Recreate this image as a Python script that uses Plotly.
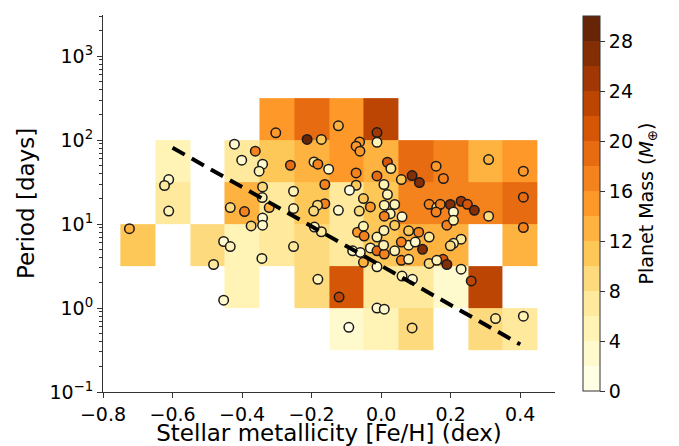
import numpy as np
import plotly.graph_objects as go

# ---- binned mean planet mass (rows: log10 period bins, cols: [Fe/H] bins) ----
feh_edges = [-0.75, -0.65, -0.55, -0.45, -0.35, -0.25, -0.15, -0.05, 0.05, 0.15, 0.25, 0.35, 0.45]
logp_edges = [-0.5, 0.0, 0.5, 1.0, 1.5, 2.0, 2.5]
N = None
cell_mean_mass = [
    # c0  c1  c2  c3  c4  c5  c6  c7  c8  c9  c10 c11
    [N,  N,  N,  N,  N,  N,  3,  5,  9,  N,  9,  7],    # 10^-0.5 - 10^0
    [N,  N,  N,  5,  N,  9,  21, 7,  7,  3,  23, N],    # 10^0 - 10^0.5
    [11, N,  9,  5,  7,  9,  7,  11, 13, 13, N,  13],   # 10^0.5 - 10^1
    [N,  7,  N,  13, 7,  11, 7,  11, 17, 17, 17, 19],   # 10^1 - 10^1.5
    [N,  5,  N,  7,  11, 13, 15, 13, 19, 17, 13, 15],   # 10^1.5 - 10^2
    [N,  N,  N,  N,  15, 19, 15, 23, N,  N,  N,  N],    # 10^2 - 10^2.5
]

# ---- individual planets ----
feh = [-0.724, -0.611, -0.623, -0.611, -0.422, -0.362, -0.401, -0.341, -0.351, -0.341,
       -0.342, -0.434, -0.393, -0.341, -0.322, -0.303, -0.123, -0.012, -0.213, -0.172,
       -0.062, -0.012, -0.072, -0.061, -0.261, -0.193, -0.182, -0.151, 0.018, 0.028,
       -0.072, -0.012, 0.089, 0.110, 0.058, 0.158, 0.179, -0.162, -0.072, 0.008,
       -0.252, -0.091, 0.018, -0.051, -0.162, -0.183, -0.252, -0.194, -0.123, -0.063,
       -0.031, 0.009, 0.039, 0.026, 0.009, 0.060, 0.138, 0.160, 0.170, 0.199,
       0.208, 0.230, 0.309, 0.409, 0.409, 0.248, 0.268, 0.309, 0.189, 0.208,
       0.409, 0.230, 0.208, 0.199, 0.178, 0.189, 0.230, 0.259, 0.329, 0.409,
       -0.252, -0.192, -0.172, -0.182, -0.121, -0.093, -0.012, 0.009, 0.089, 0.060,
       0.090, -0.012, -0.051, -0.082, -0.068, -0.051, -0.049, -0.060, -0.031, -0.012,
       0.009, 0.007, -0.012, 0.008, 0.039, 0.039, 0.058, 0.079, 0.079, 0.058,
       0.098, 0.108, 0.079, 0.119, 0.138, 0.138, 0.160, 0.158, -0.453, -0.434,
       -0.482, -0.343, -0.453, -0.374, -0.341]
period = [8.8, 33.9, 28.8, 14.3, 89.4, 73.7, 57.6, 51.6, 42.6, 27.7,
          20.7, 15.7, 14.1, 11.8, 15.7, 122, 148, 123, 102, 102,
          95, 94, 84.6, 73.7, 50.2, 55, 51.6, 45, 54.5, 45.9,
          40.6, 37.4, 37.8, 31.2, 33.9, 48.9, 34.9, 29.6, 29, 29.6,
          24.6, 25.3, 22.5, 20.1, 17.5, 16.8, 15.3, 14.3, 14.6, 14.3,
          16, 16.8, 17.1, 13.3, 12.4, 12.2, 17.2, 15.7, 17.2, 17.1,
          13.9, 18.7, 58.7, 42.6, 20.9, 17.2, 14.6, 12.4, 9.7, 11.1,
          9.1, 6.6, 5.9, 5.5, 3.8, 3.3, 2.9, 2.1, 0.75, 0.80,
          5.4, 9.2, 8.1, 2.2, 1.35, 0.59, 1.0, 0.97, 0.58, 2.4,
          2.2, 3.1, 3.5, 4.8, 8.0, 9.4, 7.2, 4.6, 5.2, 4.8,
          4.4, 5.6, 7.0, 8.4, 4.8, 9.7, 3.7, 3.8, 5.6, 6.1,
          6.1, 8.0, 8.3, 5.0, 7.0, 3.4, 3.7, 13.9, 6.2, 5.4,
          3.3, 3.9, 1.24, 9.5, 9.7]
mass = [12, 3, 7, 4, 3, 17, 3, 2, 5, 9,
        4, 9, 17, 3, 12, 15, 13, 24, 28, 10,
        14, 5, 15, 14, 18, 7, 16, 3, 20, 6,
        16, 18, 26, 26, 10, 15, 17, 17, 11, 5,
        4, 1, 4, 10, 17, 8, 4, 8, 3, 9,
        15, 5, 4, 4, 16, 3, 16, 9, 17, 27,
        3, 24, 12, 15, 19, 20, 26, 8, 16, 4,
        16, 7, 5, 8, 20, 26, 2, 22, 6, 4,
        6, 5, 6, 4, 22, 1, 3, 2, 8, 4,
        3, 2, 12, 3, 15, 4, 16, 3, 2, 19,
        17, 4, 4, 4, 4, 11, 16, 4, 4, 17,
        2, 17, 11, 26, 7, 8, 4, 16, 2, 4,
        7, 4, 2, 8, 3]

# ---- period-metallicity trend: log10(P) = intercept + slope * [Fe/H] ----
fit_intercept = 0.504
fit_slope = -2.342
fit_feh = [-0.6, 0.4]

# colorbar
mass_min, mass_max, n_levels = 0, 30, 15
cbar_ticks = [0, 4, 8, 12, 16, 20, 24, 28]

# ---- discrete YlOrBr colour scale ----
anchors = np.array([
    [255, 255, 229], [255, 247, 188], [254, 227, 145], [254, 196, 79], [254, 153, 41],
    [236, 112, 20], [204, 76, 2], [153, 52, 4], [102, 37, 6]], dtype=float)
colorscale = []
for i in range(n_levels):
    t = i / (n_levels - 1) * (len(anchors) - 1)
    k = min(int(np.floor(t)), len(anchors) - 2)
    f = t - k
    rgb = anchors[k] * (1 - f) + anchors[k + 1] * f
    c = "rgb(%d,%d,%d)" % tuple(np.round(rgb).astype(int))
    colorscale.append([i / n_levels, c])
    colorscale.append([(i + 1) / n_levels, c])

# log-axis minor ticks (2..9 in every decade)
minor_y = [m * 10.0 ** d for d in range(-1, 4) for m in range(2, 10)]

FONT = "DejaVu Sans"
FS = 19

fig = go.Figure()

fig.add_trace(go.Heatmap(
    x=feh_edges,
    y=[10 ** v for v in logp_edges],
    z=cell_mean_mass,
    coloraxis="coloraxis",
    hoverongaps=False,
))

fig.add_trace(go.Scatter(
    x=feh, y=period, mode="markers",
    marker=dict(size=9.5, color=mass, coloraxis="coloraxis",
                line=dict(color="#1a1a1a", width=1.5)),
    showlegend=False,
))

fit_x = np.array(fit_feh)
fig.add_trace(go.Scatter(
    x=fit_x, y=10 ** (fit_intercept + fit_slope * fit_x), mode="lines",
    line=dict(color="black", width=4, dash="14px,8px"),
    showlegend=False,
))

fig.update_layout(
    width=679, height=446,
    margin=dict(l=103, r=124, t=15, b=54),
    paper_bgcolor="white", plot_bgcolor="white",
    font=dict(family=FONT, size=FS, color="black"),
    coloraxis=dict(
        colorscale=colorscale, cmin=mass_min, cmax=mass_max,
        colorbar=dict(
            x=1.062, xanchor="left", xpad=0, y=0.5, yanchor="middle",
            len=0.995, lenmode="fraction", ypad=0, thickness=17,
            outlinecolor="#333", outlinewidth=1,
            tickvals=cbar_ticks, ticks="outside", ticklen=5, tickcolor="#333",
            tickfont=dict(family=FONT, size=FS),
            title=dict(text="Planet Mass (<i>M</i><sub>⊕</sub>)", side="right",
                       font=dict(family=FONT, size=FS)),
        ),
    ),
    xaxis=dict(
        range=[-0.8, 0.5], tickvals=[-0.8, -0.6, -0.4, -0.2, 0.0, 0.2, 0.4],
        tickformat=".1f", automargin=False,
        showline=True, linecolor="#333", linewidth=1, mirror=False,
        ticks="outside", ticklen=5, tickcolor="#333",
        showgrid=False, zeroline=False,
        title=dict(text="Stellar metallicity [Fe/H] (dex)", standoff=6),
    ),
    yaxis=dict(
        type="log", range=[-1, 3.49], automargin=False,
        tickvals=[0.1, 1, 10, 100, 1000],
        ticktext=["10<sup>−1</sup>", "10<sup>0</sup>", "10<sup>1</sup>",
                  "10<sup>2</sup>", "10<sup>3</sup>"],
        showline=True, linecolor="#333", linewidth=1, mirror=False,
        ticks="outside", ticklen=5, tickcolor="#333",
        minor=dict(tickvals=minor_y, ticks="outside", ticklen=3,
                   tickcolor="#333", showgrid=False),
        showgrid=False, zeroline=False,
        title=dict(text="Period [days]", standoff=8),
    ),
)

fig.write_html("out.html")
